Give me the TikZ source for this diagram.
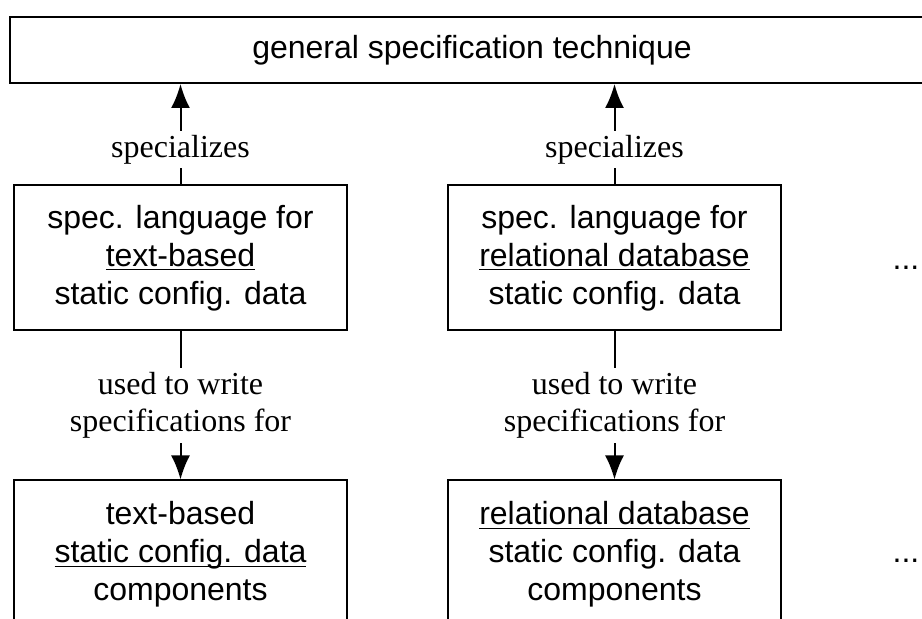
\documentclass[tikz,border=0pt]{standalone}
\usepackage{fontspec}
\setmainfont{Liberation Sans}
\newfontfamily\labelfont{Liberation Serif}
\usetikzlibrary{arrows.meta,positioning}
\newlength{\ulwd}
\newcommand{\undl}[1]{\settowidth{\ulwd}{#1}\rlap{\rule[-2pt]{\ulwd}{0.6pt}}#1}
\tikzset{
  box/.style={
    draw,
    line width=1pt,
    align=center,
    inner sep=0pt,
    font=\fontsize{16}{19}\selectfont,
    minimum width=166.5pt,
    minimum height=72.5pt
  },
  compbox/.style={box, minimum height=74pt},
  lbl/.style={fill=white, align=center, inner sep=2pt, font=\labelfont\fontsize{16}{18.5}\selectfont},
  dots/.style={font=\fontsize{16}{19}\selectfont, anchor=base},
  arrow/.style={-{Latex[length=12pt,width=9.5pt]}, line width=1pt}
}

\begin{document}
\begin{tikzpicture}[x=0.5pt, y=-0.5pt, node distance=49.5pt]
    \useasboundingbox (0,0) rectangle (922,619);
    \clip (0,0) rectangle (922,619);
    \node[box, anchor=north west, minimum width=462pt, minimum height=33pt] (general) at (9,16) {general specification technique};
    \node[box] (textlang) at (180.5,258) {spec. language for\\\undl{text-based}\\static config. data};
    \node[box, right=of textlang] (rellang) {spec. language for\\\undl{relational database}\\static config. data};
    \node[compbox, below=74pt of textlang] (textcomp) {text-based\\\undl{static config. data}\\components};
    \node[compbox, below=74pt of rellang] (relcomp) {\undl{relational database}\\static config. data\\components};
    \node[dots] (moremid) at (906,270) {...};
    \node[dots] (morecomp) at (906,563) {...};
    \draw[arrow] (textlang) -- node[lbl, pos=0.35] {specializes} (general.south -| textlang);
    \draw[arrow] (rellang) -- node[lbl, pos=0.35] {specializes} (general.south -| rellang);
    \draw[arrow] (textlang) -- node[lbl] {used to write\\specifications for} (textcomp);
    \draw[arrow] (rellang) -- node[lbl] {used to write\\specifications for} (relcomp);
  \end{tikzpicture}
\end{document}
